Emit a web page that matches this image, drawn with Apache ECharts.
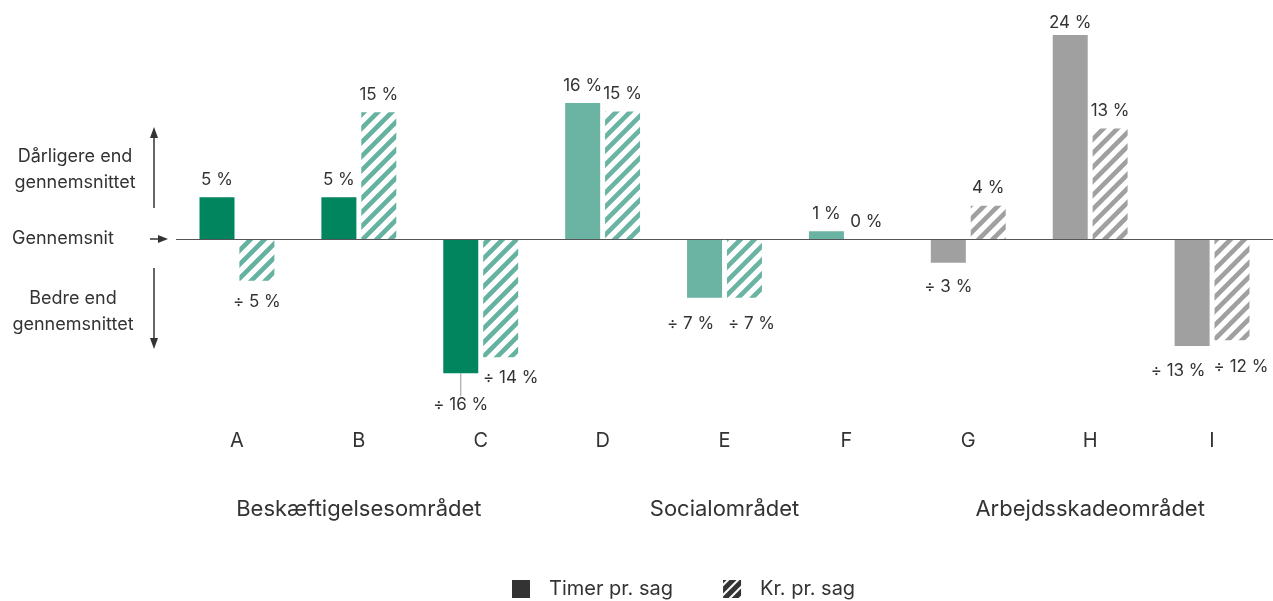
<!DOCTYPE html>
<html>
<head>
<meta charset="utf-8">
<script src="https://cdn.jsdelivr.net/npm/echarts@6/dist/echarts.min.js"></script>
<style>
html,body{margin:0;padding:0;background:#fff;}
#chart{width:1273px;height:601px;}
</style>
</head>
<body>
<div id="chart"></div>
<script>
// ---- data ----
const categories = ['A', 'B', 'C', 'D', 'E', 'F', 'G', 'H', 'I'];
const groups = ['Beskæftigelsesområdet', 'Socialområdet', 'Arbejdsskadeområdet'];
const timerPrSag = [4.9, 4.9, -15.8, 16.0, -6.9, 0.9, -2.8, 24.0, -12.6];
const krPrSag = [-4.9, 14.9, -13.9, 15.0, -6.9, 0.0, 3.9, 13.0, -11.9];
const seriesNames = ['Timer pr. sag', 'Kr. pr. sag'];

// ---- styling ----
const FONT = 'Inter, "Liberation Sans", Arial, sans-serif';
const TXT = '#333333';
const groupColors = ['#00855F', '#6BB3A3', '#A0A0A0'];
const hatchColors = ['#66B2A0', '#6BB3A3', '#A0A0A0'];
const groupOf = i => Math.floor(i / 3);

function makeHatch(color, size, lw) {
  const c = document.createElement('canvas');
  c.width = size; c.height = size;
  const ctx = c.getContext('2d');
  ctx.fillStyle = '#ffffff';
  ctx.fillRect(0, 0, size, size);
  ctx.strokeStyle = color;
  ctx.lineWidth = lw;
  ctx.lineCap = 'square';
  ctx.beginPath();
  for (const k of [-size, 0, size]) {
    ctx.moveTo(k, size);
    ctx.lineTo(k + size, 0);
  }
  ctx.stroke();
  return {image: c, repeat: 'repeat'};
}
const hatches = hatchColors.map(c => makeHatch(c, 14, 4.6));
const legendHatch = makeHatch('#333333', 10, 5);

function fmt(v) {
  const r = Math.round(Math.abs(v));
  return (v < 0 ? '÷ ' : '') + r + ' %';
}

// label nudges [series][dataIndex] = [dx, dy]
const nudges = [
  {2: [0, 14], 4: [-14, 9], 6: [0, 7], 7: [0, 5], 8: [-14, 7]},
  {0: [0, 4], 2: [10, 3], 4: [7, 9], 8: [9, 9]}
];

function buildData(values, si) {
  return values.map((v, i) => {
    const item = {
      value: v,
      label: {position: v < 0 ? 'bottom' : 'top'}
    };
    if (si === 0 && i === 2) {
      item.labelLine = {show: true, lineStyle: {color: '#999', width: 1}};
    }
    return item;
  });
}

const labelCommon = {
  show: true,
  distance: 9,
  fontFamily: FONT,
  fontSize: 17,
  color: TXT,
  formatter: p => fmt(p.value)
};

const chart = echarts.init(document.getElementById('chart'));
const option = {
  animation: false,
  grid: {left: 176, right: -3, top: 18, bottom: 192, containLabel: false},
  legend: {
    left: 512, top: 579, padding: 0,
    itemWidth: 18, itemHeight: 18, itemGap: 50,
    textStyle: {fontFamily: FONT, fontSize: 20, color: TXT, padding: [0, 0, 0, 14]},
    data: [
      {name: seriesNames[0], icon: 'rect', itemStyle: {color: '#333333'}},
      {name: seriesNames[1], icon: 'rect', itemStyle: {color: legendHatch}}
    ],
    selectedMode: false
  },
  xAxis: [
    {
      type: 'category', data: categories, position: 'bottom',
      axisLine: {show: false}, axisTick: {show: false},
      axisLabel: {fontFamily: FONT, fontSize: 20, color: TXT, margin: 22}
    },
    {
      type: 'category', data: groups, position: 'bottom', offset: 67,
      axisLine: {show: false}, axisTick: {show: false},
      axisLabel: {fontFamily: FONT, fontSize: 22, color: TXT, margin: 22}
    }
  ],
  yAxis: {type: 'value', min: -20, max: 26, show: false},
  series: [
    {
      name: seriesNames[0], type: 'bar', xAxisIndex: 0,
      barWidth: 35, barGap: '14%',
      data: buildData(timerPrSag, 0),
      itemStyle: {color: p => groupColors[groupOf(p.dataIndex)]},
      label: labelCommon,
      markLine: {
        silent: true, symbol: 'none', label: {show: false},
        lineStyle: {color: '#555555', width: 1, type: 'solid'},
        data: [{yAxis: 0}]
      },
      labelLayout: p => {
        const n = nudges[0][p.dataIndex];
        return n ? {dx: n[0], dy: n[1]} : {};
      }
    },
    {
      name: seriesNames[1], type: 'bar', xAxisIndex: 0,
      barWidth: 35, barGap: '14%',
      data: buildData(krPrSag, 1),
      itemStyle: {color: p => hatches[groupOf(p.dataIndex)]},
      label: labelCommon,
      labelLayout: p => {
        const n = nudges[1][p.dataIndex];
        return n ? {dx: n[0], dy: n[1]} : {};
      }
    }
  ],
  graphic: [
    {type: 'text', x: 75, y: 170, style: {text: 'Dårligere end\ngennemsnittet', font: '18px ' + FONT, fill: TXT, textAlign: 'center', textVerticalAlign: 'middle', lineHeight: 26}},
    {type: 'text', x: 12, y: 239, style: {text: 'Gennemsnit', font: '18px ' + FONT, fill: TXT, textAlign: 'left', textVerticalAlign: 'middle'}},
    {type: 'text', x: 73, y: 312, style: {text: 'Bedre end\ngennemsnittet', font: '18px ' + FONT, fill: TXT, textAlign: 'center', textVerticalAlign: 'middle', lineHeight: 26}},
    {type: 'line', shape: {x1: 154, y1: 136, x2: 154, y2: 208}, style: {stroke: TXT, lineWidth: 1.5}},
    {type: 'polygon', shape: {points: [[154, 127], [150, 138], [158, 138]]}, style: {fill: TXT}},
    {type: 'line', shape: {x1: 154, y1: 268, x2: 154, y2: 340}, style: {stroke: TXT, lineWidth: 1.5}},
    {type: 'polygon', shape: {points: [[154, 349], [150, 338], [158, 338]]}, style: {fill: TXT}},
    {type: 'line', shape: {x1: 150, y1: 239, x2: 159, y2: 239}, style: {stroke: TXT, lineWidth: 1.5}},
    {type: 'polygon', shape: {points: [[168, 239], [158, 235], [158, 243]]}, style: {fill: TXT}}
  ]
};
chart.setOption(option);
</script>
</body>
</html>
